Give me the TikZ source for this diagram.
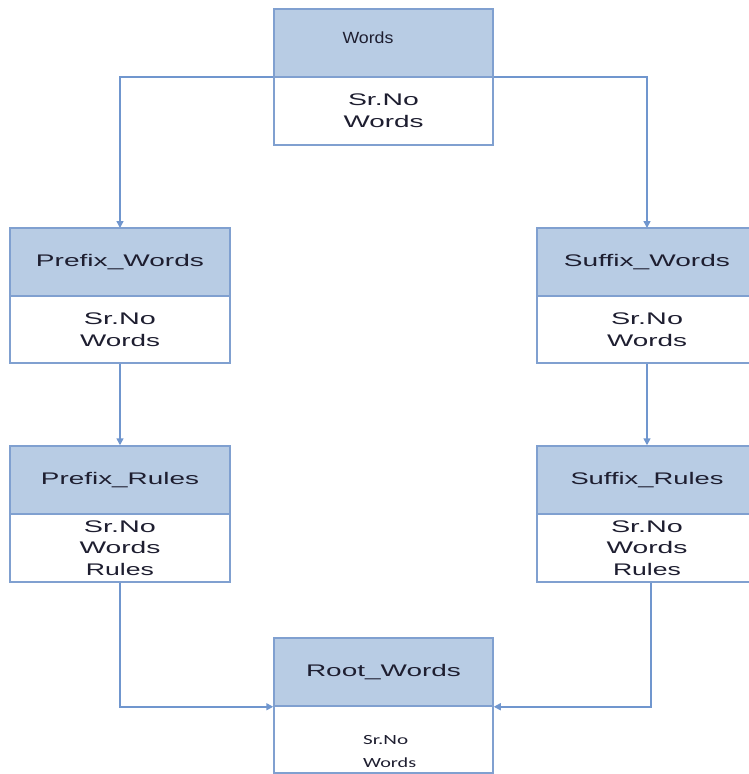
\documentclass[tikz,border=0pt]{standalone}
\usepackage{fontspec}
\setmainfont{Liberation Sans}
\newfontfamily\calibfont{Carlito}
\usetikzlibrary{arrows.meta}
\definecolor{hdr}{RGB}{184,204,228}
\definecolor{brd}{RGB}{128,160,208}
\definecolor{lnc}{RGB}{112,150,206}
\definecolor{txt}{RGB}{30,30,48}
\newcommand{\sx}[2]{\resizebox{#1pt}{\height}{#2}}
\begin{document}
\begin{tikzpicture}[x=1pt,y=-1pt,
  hbox/.style={draw=brd,line width=1.5pt,fill=hdr,minimum width=219pt,minimum height=68pt,inner sep=0pt,text=txt,font=\fontsize{16.8pt}{21.7pt}\selectfont},
  bbox/.style={draw=brd,line width=1.5pt,fill=white,minimum width=219pt,minimum height=67pt,inner sep=0pt,align=center,text=txt,font=\fontsize{16.8pt}{21.7pt}\selectfont},
  conn/.style={draw=lnc,line width=1.5pt,-{Triangle[width=7pt,length=7pt]}},
  plain/.style={draw=lnc,line width=1.5pt}]
\useasboundingbox (0,0) rectangle (748,774);
\fill[white] (0,0) rectangle (748,774);

% connectors first
\coordinate (tl) at (274,77);
\coordinate (tr) at (493,77);
\draw[conn] (tl) -| (120,228);
\draw[conn] (tr) -| (647,228);

% Top table
\node[hbox] (wordsH) at (383.5,43) {};
\node[text=txt,font=\fontsize{16.2pt}{20pt}\selectfont] (wordsHT) at (368,38) {\sx{51}{Words}};
\node[bbox,minimum height=68pt] (wordsB) at (383.5,111) {\sx{71}{Sr.No}\\[0.5pt]\sx{80}{Words}};

% Prefix_Words
\node[hbox,minimum width=220pt] (pwH) at (120,262) {\raisebox{2pt}{\sx{168}{Prefix\_Words}}};
\node[bbox,minimum width=220pt] (pwB) at (120,329.5) {\sx{72}{Sr.No}\\\sx{80}{Words}};

% Suffix_Words
\node[hbox,minimum width=220pt] (swH) at (647,262) {\raisebox{2pt}{\sx{166}{Suffix\_Words}}};
\node[bbox,minimum width=220pt] (swB) at (647,329.5) {\sx{72}{Sr.No}\\\sx{80}{Words}};

% Prefix_Rules
\node[hbox,minimum width=220pt] (prH) at (120,480) {\sx{158}{Prefix\_Rules}};
\node[bbox,minimum width=220pt,minimum height=68pt] (prB) at (120,548) {\sx{72}{Sr.No}\\\sx{81}{Words}\\\sx{68}{Rules}};

% Suffix_Rules
\node[hbox,minimum width=220pt] (srH) at (647,480) {\sx{153}{Suffix\_Rules}};
\node[bbox,minimum width=220pt,minimum height=68pt] (srB) at (647,548) {\sx{72}{Sr.No}\\\sx{81}{Words}\\\sx{68}{Rules}};

% Root_Words
\node[hbox] (rootH) at (383.5,672) {\raisebox{1pt}{\sx{155}{Root\_Words}}};
\node[bbox] (rootB) at (383.5,739.5) {};
\node[anchor=west,align=left,inner sep=0pt,text=txt,font=\calibfont\fontsize{14pt}{23pt}\selectfont] (rootT) at (363,751.5) {\sx{45}{Sr.No}\\\sx{53}{Words}};

% vertical arrows
\draw[conn] (pwB.south) -- (prH.north);
\draw[conn] (swB.south) -- (srH.north);
\draw[conn] (prB.south) |- (rootH.south west);
\draw[conn] ([xshift=4pt]srB.south) |- (rootH.south east);
\end{tikzpicture}
\end{document}
